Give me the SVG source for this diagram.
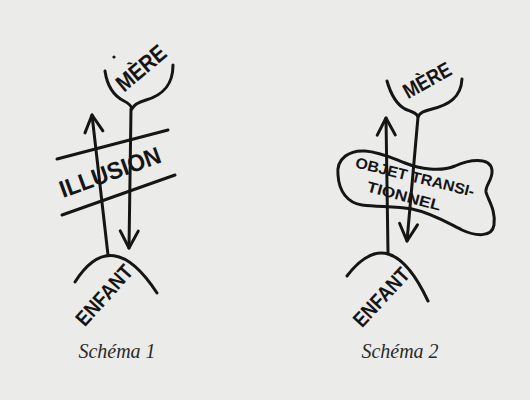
<svg xmlns="http://www.w3.org/2000/svg" width="530" height="400" viewBox="0 0 530 400">
  <defs>
    <style>
      .ink { fill: none; stroke: #151515; stroke-width: 3; stroke-linecap: round; stroke-linejoin: round; }
      .hand { font-family: "Liberation Sans", "DejaVu Sans", sans-serif; font-weight: bold; fill: #151515; text-anchor: middle; }
      .cap { font-family: "Liberation Serif", "DejaVu Serif", serif; font-style: italic; font-size: 20px; fill: #2a2a2a; text-anchor: middle; }
    </style>
    <marker id="vhead" markerUnits="userSpaceOnUse" markerWidth="30" markerHeight="30" refX="0" refY="0" orient="auto" overflow="visible">
      <path d="M -17,-9 L 0,0 L -17,9" fill="none" stroke="#151515" stroke-width="3" stroke-linecap="round" stroke-linejoin="round"/>
    </marker>
  </defs>
  <rect width="530" height="400" fill="#ebebe9"/>

  <!-- Schéma 1 -->
  <g id="mere1">
    <path class="ink" d="M 105,71 C 107,85 114,96 124,101 C 128,103 131,105 132,109 C 134,104 139,102 146,100 C 163,95 173,85 173,65"/>
    <circle cx="114" cy="57" r="1.6" fill="#151515"/>
    <text class="hand" font-size="23" transform="translate(141 68) rotate(-40)" y="8" textLength="58" lengthAdjust="spacingAndGlyphs">MÈRE</text>
  </g>
  <g id="illusion1">
    <path class="ink" d="M 57,159 L 168,130"/>
    <path class="ink" d="M 62,215 L 175,175"/>
    <text class="hand" font-size="24" transform="translate(110 172) rotate(-20)" y="8.5" textLength="106" lengthAdjust="spacingAndGlyphs">ILLUSION</text>
  </g>
  <g id="enfant1">
    <path class="ink" d="M 75,282 Q 112,224 157,293"/>
    <text class="hand" font-size="21" transform="translate(104 295) rotate(-48)" y="7.5" textLength="74" lengthAdjust="spacingAndGlyphs">ENFANT</text>
  </g>
  <text id="caption1" class="cap" x="117" y="358">Schéma 1</text>

  <!-- Schéma 2 -->
  <g id="mere2">
    <path class="ink" d="M 387,81 C 391,95 396,104 405,109 C 412,112 417,113 418,117 C 420,112 425,111 432,109 C 448,105 461,98 462,79"/>
    <text class="hand" font-size="21" transform="translate(427 80) rotate(-29)" y="7.5" textLength="52" lengthAdjust="spacingAndGlyphs">MÈRE</text>
  </g>
  <g id="objet2">
    <path class="ink" d="M 338,175 C 336,158 350,150 365,151 C 380,152 392,158 405,163 C 420,169 440,172 455,166 C 468,160 490,156 492,170 C 493,180 485,185 486,192 C 488,200 496,210 494,225 C 492,238 475,236 462,230 C 448,223 432,213 412,209 C 395,206 378,207 362,205 C 348,203 339,192 338,175 Z"/>
    <text class="hand" font-size="15" transform="translate(415 177) rotate(14)" y="5.2" textLength="122" lengthAdjust="spacingAndGlyphs">OBJET TRANSI-</text>
    <text class="hand" font-size="15" transform="translate(404 196) rotate(15)" y="5.2" textLength="76" lengthAdjust="spacingAndGlyphs">TIONNEL</text>
  </g>
  <g id="enfant2">
    <path class="ink" d="M 347,276 Q 390,220 428,301"/>
    <text class="hand" font-size="21" transform="translate(381 297) rotate(-47)" y="7.5" textLength="72" lengthAdjust="spacingAndGlyphs">ENFANT</text>
  </g>
  <text id="caption2" class="cap" x="400" y="358">Schéma 2</text>

  <!-- connectors -->
  <g id="connectors">
    <path class="ink" d="M 131,109 L 129,248" marker-end="url(#vhead)"/>
    <path class="ink" d="M 108,255 L 92,115" marker-end="url(#vhead)"/>
    <path class="ink" d="M 418,117 L 407,241" marker-end="url(#vhead)"/>
    <path class="ink" d="M 388,253 L 386,118" marker-end="url(#vhead)"/>
  </g>
</svg>
